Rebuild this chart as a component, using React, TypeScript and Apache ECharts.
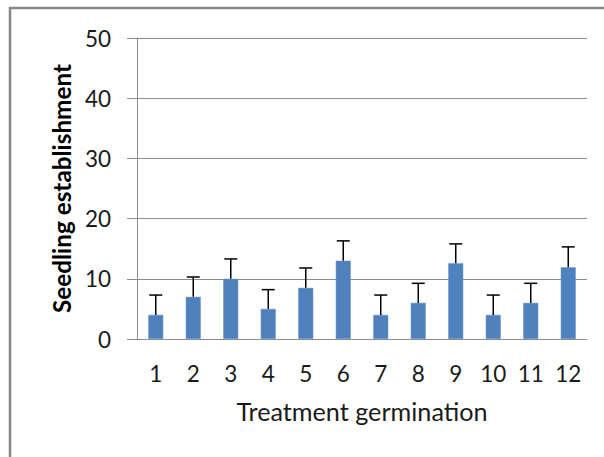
import React, { useEffect, useRef } from "react";
import * as echarts from "echarts";

const categories = ["1", "2", "3", "4", "5", "6", "7", "8", "9", "10", "11", "12"];
const values = [4, 7, 10, 5, 8.5, 13, 4, 6, 12.6, 4, 6, 11.9];
const errors = [3.3, 3.3, 3.3, 3.2, 3.3, 3.3, 3.3, 3.25, 3.2, 3.3, 3.25, 3.4];
const yTicks = [0, 10, 20, 30, 40, 50];

export default function App() {
  const ref = useRef<HTMLDivElement>(null);
  useEffect(() => {
    document.body.style.margin = "0";
    const chart = echarts.init(ref.current!, null, { renderer: "svg" });
    const font = "Lato, 'Open Sans', sans-serif";
    chart.setOption({
      animation: false,
      graphic: [
        {
          type: "rect",
          shape: { x: 10, y: 8, width: 700, height: 600 },
          style: { fill: "none", stroke: "#888888", lineWidth: 2.5 },
          silent: true,
        },
      ],
      grid: { left: 137, right: 17, top: 38, bottom: 118 },
      xAxis: {
        type: "category",
        data: categories,
        name: "Treatment germination",
        nameLocation: "middle",
        nameGap: 59,
        nameTextStyle: { fontFamily: font, fontSize: 25.2, color: "#1a1a1a" },
        axisLine: { lineStyle: { color: "#8c8c8c", width: 1 } },
        axisTick: { show: false },
        axisLabel: { fontFamily: font, fontSize: 22.5, color: "#1a1a1a", margin: 23 },
      },
      yAxis: {
        type: "value",
        min: yTicks[0],
        max: yTicks[yTicks.length - 1],
        interval: 10,
        name: "Seedling establishment",
        nameLocation: "middle",
        nameGap: 64,
        nameTextStyle: { fontFamily: font, fontSize: 24.3, fontWeight: "bold", color: "#000" },
        axisLine: { show: true, lineStyle: { color: "#8c8c8c", width: 1 } },
        axisTick: { show: true, length: 10, inside: false, lineStyle: { color: "#8c8c8c" } },
        axisLabel: { fontFamily: font, fontSize: 22.5, color: "#1a1a1a", margin: 26 },
        splitLine: { lineStyle: { color: "#8c8c8c", width: 1 } },
      },
      series: [
        {
          type: "bar",
          data: values,
          barWidth: 15,
          itemStyle: { color: "#4f81bd", borderColor: "#6a96cc", borderWidth: 0.5 },
        },
        {
          type: "custom",
          data: values.map((v, i) => [i, v, v + errors[i]]),
          z: 10,
          renderItem: (params: any, api: any) => {
            const x = api.value(0);
            const p0 = api.coord([x, api.value(1)]);
            const p1 = api.coord([x, api.value(2)]);
            const hw = 6.5;
            const style = { stroke: "#000", lineWidth: 1.5 };
            return {
              type: "group",
              children: [
                { type: "line", shape: { x1: p0[0], y1: p0[1], x2: p1[0], y2: p1[1] }, style },
                { type: "line", shape: { x1: p1[0] - hw, y1: p1[1], x2: p1[0] + hw, y2: p1[1] }, style },
              ],
            };
          },
        },
      ],
    });
    return () => chart.dispose();
  }, []);
  return <div ref={ref} style={{ width: 604, height: 457 }} />;
}
